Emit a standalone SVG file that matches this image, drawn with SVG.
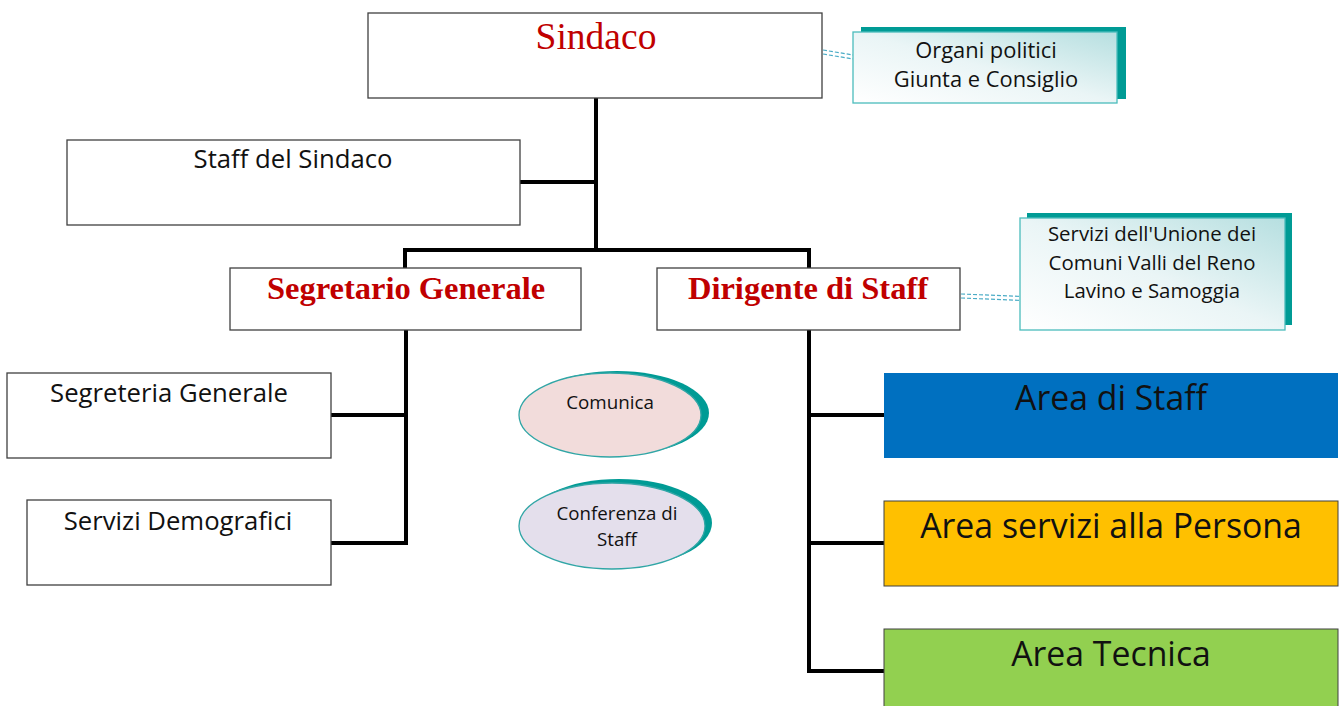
<svg xmlns="http://www.w3.org/2000/svg" width="1343" height="706" viewBox="0 0 1343 706">
<style>
.box{fill:#fff;stroke:#404040;stroke-width:1.3}
.ln{fill:none;stroke:#000;stroke-width:4}
.dash{fill:none;stroke:#4bacc6;stroke-width:1.2;stroke-dasharray:4 2}
.t{font-family:"Open Sans",Lato,sans-serif;fill:#111;text-anchor:middle}
.red{font-family:"Liberation Serif","Times New Roman",serif;fill:#c00000;text-anchor:middle}
.shadow{fill:#009b95}
.note{fill:url(#g1);stroke:#4bbcbc;stroke-width:1.3}
</style>
<defs>
<linearGradient id="g1" x1="0" y1="1" x2="1" y2="0">
<stop offset="0" stop-color="#ffffff"/>
<stop offset="0.5" stop-color="#eaf5f6"/>
<stop offset="1" stop-color="#b6dfe0"/>
</linearGradient>
</defs>
<rect width="1343" height="706" fill="#fff"/>
<g id="connectors">
<path class="ln" d="M596 98V250M520 182H596M405 250H809M405 248V268M809 248V268"/>
<path class="ln" d="M406 330V545M331 415H406M331 543H408"/>
<path class="ln" d="M809 330V673M809 415H884M809 543H884M807 671H884"/>
<path class="dash" d="M823 50L853 55M823 54L853 59"/>
<path class="dash" d="M961 294L1035 297M961 298L1035 301"/>
</g>
<g id="sindaco">
<rect class="box" x="368" y="13" width="454" height="85"/>
<text class="red" x="596" y="49" font-size="37.5">Sindaco</text>
</g>
<g id="organi">
<rect class="shadow" x="861" y="27" width="265" height="72"/>
<rect class="note" x="853" y="32" width="264" height="71"/>
<text class="t" x="986" y="58" font-size="21.9">Organi politici</text>
<text class="t" x="986" y="87" font-size="21.9">Giunta e Consiglio</text>
</g>
<g id="staff-sindaco">
<rect class="box" x="67" y="140" width="453" height="85"/>
<text class="t" x="293" y="168" font-size="25.7">Staff del Sindaco</text>
</g>
<g id="segretario">
<rect class="box" x="230" y="268" width="351" height="62"/>
<text class="red" x="406" y="299" font-size="32.5" font-weight="bold">Segretario Generale</text>
</g>
<g id="dirigente">
<rect class="box" x="657" y="268" width="303" height="62"/>
<text class="red" x="808" y="299" font-size="32.5" font-weight="bold">Dirigente di Staff</text>
</g>
<g id="unione">
<rect class="shadow" x="1027" y="213" width="265" height="112"/>
<rect class="note" x="1020" y="218" width="265" height="112"/>
<text class="t" x="1152" y="241" font-size="20.4">Servizi dell'Unione dei</text>
<text class="t" x="1152" y="270" font-size="20.4">Comuni Valli del Reno</text>
<text class="t" x="1152" y="298" font-size="20.4">Lavino e Samoggia</text>
</g>
<g id="segreteria">
<rect class="box" x="7" y="373" width="324" height="85"/>
<text class="t" x="169" y="402" font-size="25.7">Segreteria Generale</text>
</g>
<g id="demografici">
<rect class="box" x="27" y="500" width="304" height="85"/>
<text class="t" x="178" y="530" font-size="25.7">Servizi Demografici</text>
</g>
<g id="comunica">
<ellipse class="shadow" cx="617" cy="413" rx="92" ry="42"/>
<ellipse cx="610" cy="415" rx="91" ry="42" fill="#f2dcdb" stroke="#31a6a6" stroke-width="1.3"/>
<text class="t" x="610" y="409" font-size="18.8">Comunica</text>
</g>
<g id="conferenza">
<ellipse class="shadow" cx="619" cy="523" rx="93" ry="44"/>
<ellipse cx="612" cy="526" rx="93" ry="43" fill="#e4dfec" stroke="#31a6a6" stroke-width="1.3"/>
<text class="t" x="617" y="520" font-size="18.7">Conferenza di</text>
<text class="t" x="617" y="546" font-size="18.7">Staff</text>
</g>
<g id="area-staff">
<rect x="884" y="373" width="454" height="85" fill="#0070c0"/>
<text class="t" x="1111" y="410" font-size="33.8">Area di Staff</text>
</g>
<g id="area-persona">
<rect x="884" y="501" width="454" height="85" fill="#ffc000" stroke="#404040" stroke-width="1"/>
<text class="t" x="1111" y="538" font-size="33.8">Area servizi alla Persona</text>
</g>
<g id="area-tecnica">
<rect x="884" y="629" width="454" height="80" fill="#92d050" stroke="#404040" stroke-width="1"/>
<text class="t" x="1111" y="666" font-size="33.8">Area Tecnica</text>
</g>
</svg>
